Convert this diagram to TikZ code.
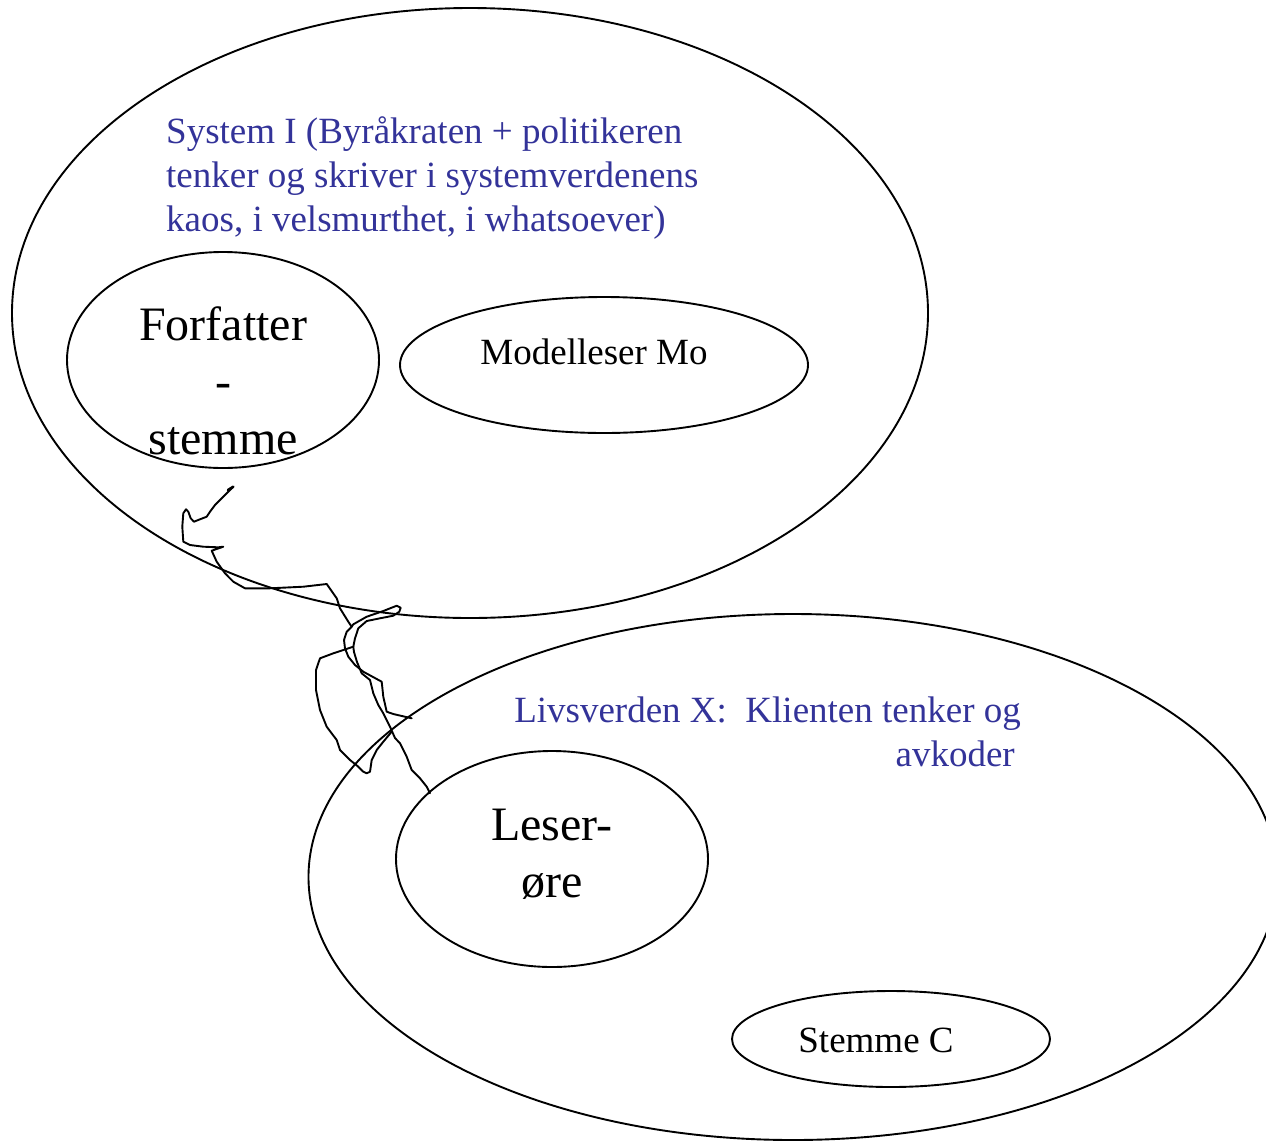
\documentclass[tikz,border=0pt]{standalone}
\usepackage{fontspec}
\setmainfont{Liberation Serif}
\usetikzlibrary{shapes.geometric}
\definecolor{txtblue}{RGB}{51,51,153}
\tikzset{
  oval/.style={ellipse, draw=black, line width=1.9pt, inner sep=0pt, outer sep=0pt},
  bluetxt/.style={text=txtblue, inner sep=0pt, font=\fontsize{37}{44}\selectfont},
  bigtxt/.style={text=black, inner sep=0pt, align=center, font=\fontsize{48}{57}\selectfont},
  midtxt/.style={text=black, inner sep=0pt, font=\fontsize{37}{44}\selectfont},
  scribble/.style={line width=1.9pt, line join=round, line cap=round}
}
\begin{document}
\begin{tikzpicture}[x=1pt,y=-1pt]
\useasboundingbox (0,0) rectangle (1266,1141);
\clip (0,0) rectangle (1266,1141);
\fill[white] (0,0) rectangle (1266,1141);
% ellipses
\node[oval, minimum width=916pt, minimum height=610pt] (sys) at (470,313) {};
\node[oval, minimum width=969pt, minimum height=526pt] (liv) at (793,877) {};
\node[oval, minimum width=312pt, minimum height=216pt] (forf) at (223,360) {};
\node[oval, minimum width=408pt, minimum height=136pt] (mod) at (604,365) {};
\node[oval, minimum width=312pt, minimum height=216pt] (leser) at (552,859) {};
\node[oval, minimum width=318pt, minimum height=96pt] (stem) at (891,1039) {};
% texts (anchor base = baseline of the last line)
\node[bluetxt, align=left, anchor=base west] (systxt) at (166,231)
  {System I (Byråkraten + politikeren\\tenker og skriver i systemverdenens\\kaos, i velsmurthet, i whatsoever)};
\node[bigtxt, anchor=base] (forftxt) at (223,454) {Forfatter\\-\\stemme};
\node[midtxt, anchor=base] (modtxt) at (594,364) {Modelleser Mo};
\node[bluetxt, align=right, anchor=base east] (livtxt) at (1021,766)
  {Livsverden X:\ \ Klienten tenker og\\avkoder\hspace*{6pt}};
\node[bigtxt, anchor=base] (lesertxt) at (552,897) {Leser-\\øre};
\node[midtxt, anchor=base] (stemtxt) at (876,1052) {Stemme C};
% scribbled connector
\coordinate (sA) at (233.3,486.7);
\coordinate (sEnd) at (430,793.3);
\draw[scribble] (sA) -- (225,495) -- (215,505) -- (210,511.7) -- (206.7,516.7) -- (200,519.3) -- (194,521.7)
  -- (190.7,518.3) -- (188.3,511.7) -- (186,509.3) -- (183.3,513.3) -- (182.3,526.7) -- (183.3,541.7)
  -- (190,545) -- (203.3,546.7) -- (218.3,547.3) -- (223.3,546.7) -- (211.7,550.7) -- (216.7,561.7)
  -- (225,573.3) -- (233.3,581.7) -- (245,588.3) -- (270,588.3) -- (303.3,586.7) -- (326.7,584)
  -- (336.7,598.3) -- (340,608.3) -- (348.3,621.7) -- (351.7,626.7) -- (346.7,631.7) -- (344,640)
  -- (345,648.3) -- (348.3,656.7) -- (355,665) -- (363.3,671.7) -- (381.7,681.7) -- (383.3,696.7)
  -- (386.7,711.7) -- (393.3,714) -- (411.7,718.3);
\draw[scribble] (391.7,731.7) -- (383.3,741.7) -- (376.7,750) -- (371.7,760) -- (370,771.7) -- (366.7,773.3)
  -- (363.3,771.7) -- (358.3,766.7) -- (350,760) -- (340,750) -- (336.7,740) -- (326.7,726.7)
  -- (320,710) -- (316,690) -- (316,670) -- (320,658.3) -- (333.3,653.3) -- (353.3,646.7)
  -- (355,638.3) -- (358.3,628.3) -- (366.7,621) -- (380,618.3) -- (393.3,615.7) -- (399.3,611.7)
  -- (400.7,607.7) -- (396.7,605.7) -- (383.3,611) -- (366.7,616.7) -- (353.3,624.3) -- (351.7,626.7);
\draw[scribble] (353.3,646.7) -- (354,652) -- (357,662) -- (361.7,673.3) -- (370,680) -- (373.3,693.3)
  -- (378.3,705) -- (383.3,713.3) -- (390,726.7) -- (395,738) -- (400,743.3) -- (406.7,756.7)
  -- (411.7,770) -- (420,778.3) -- (426.7,786.7) -- (sEnd);
\draw[line width=2.6pt, line cap=round] (sA) -- (228,490);
\end{tikzpicture}
\end{document}
